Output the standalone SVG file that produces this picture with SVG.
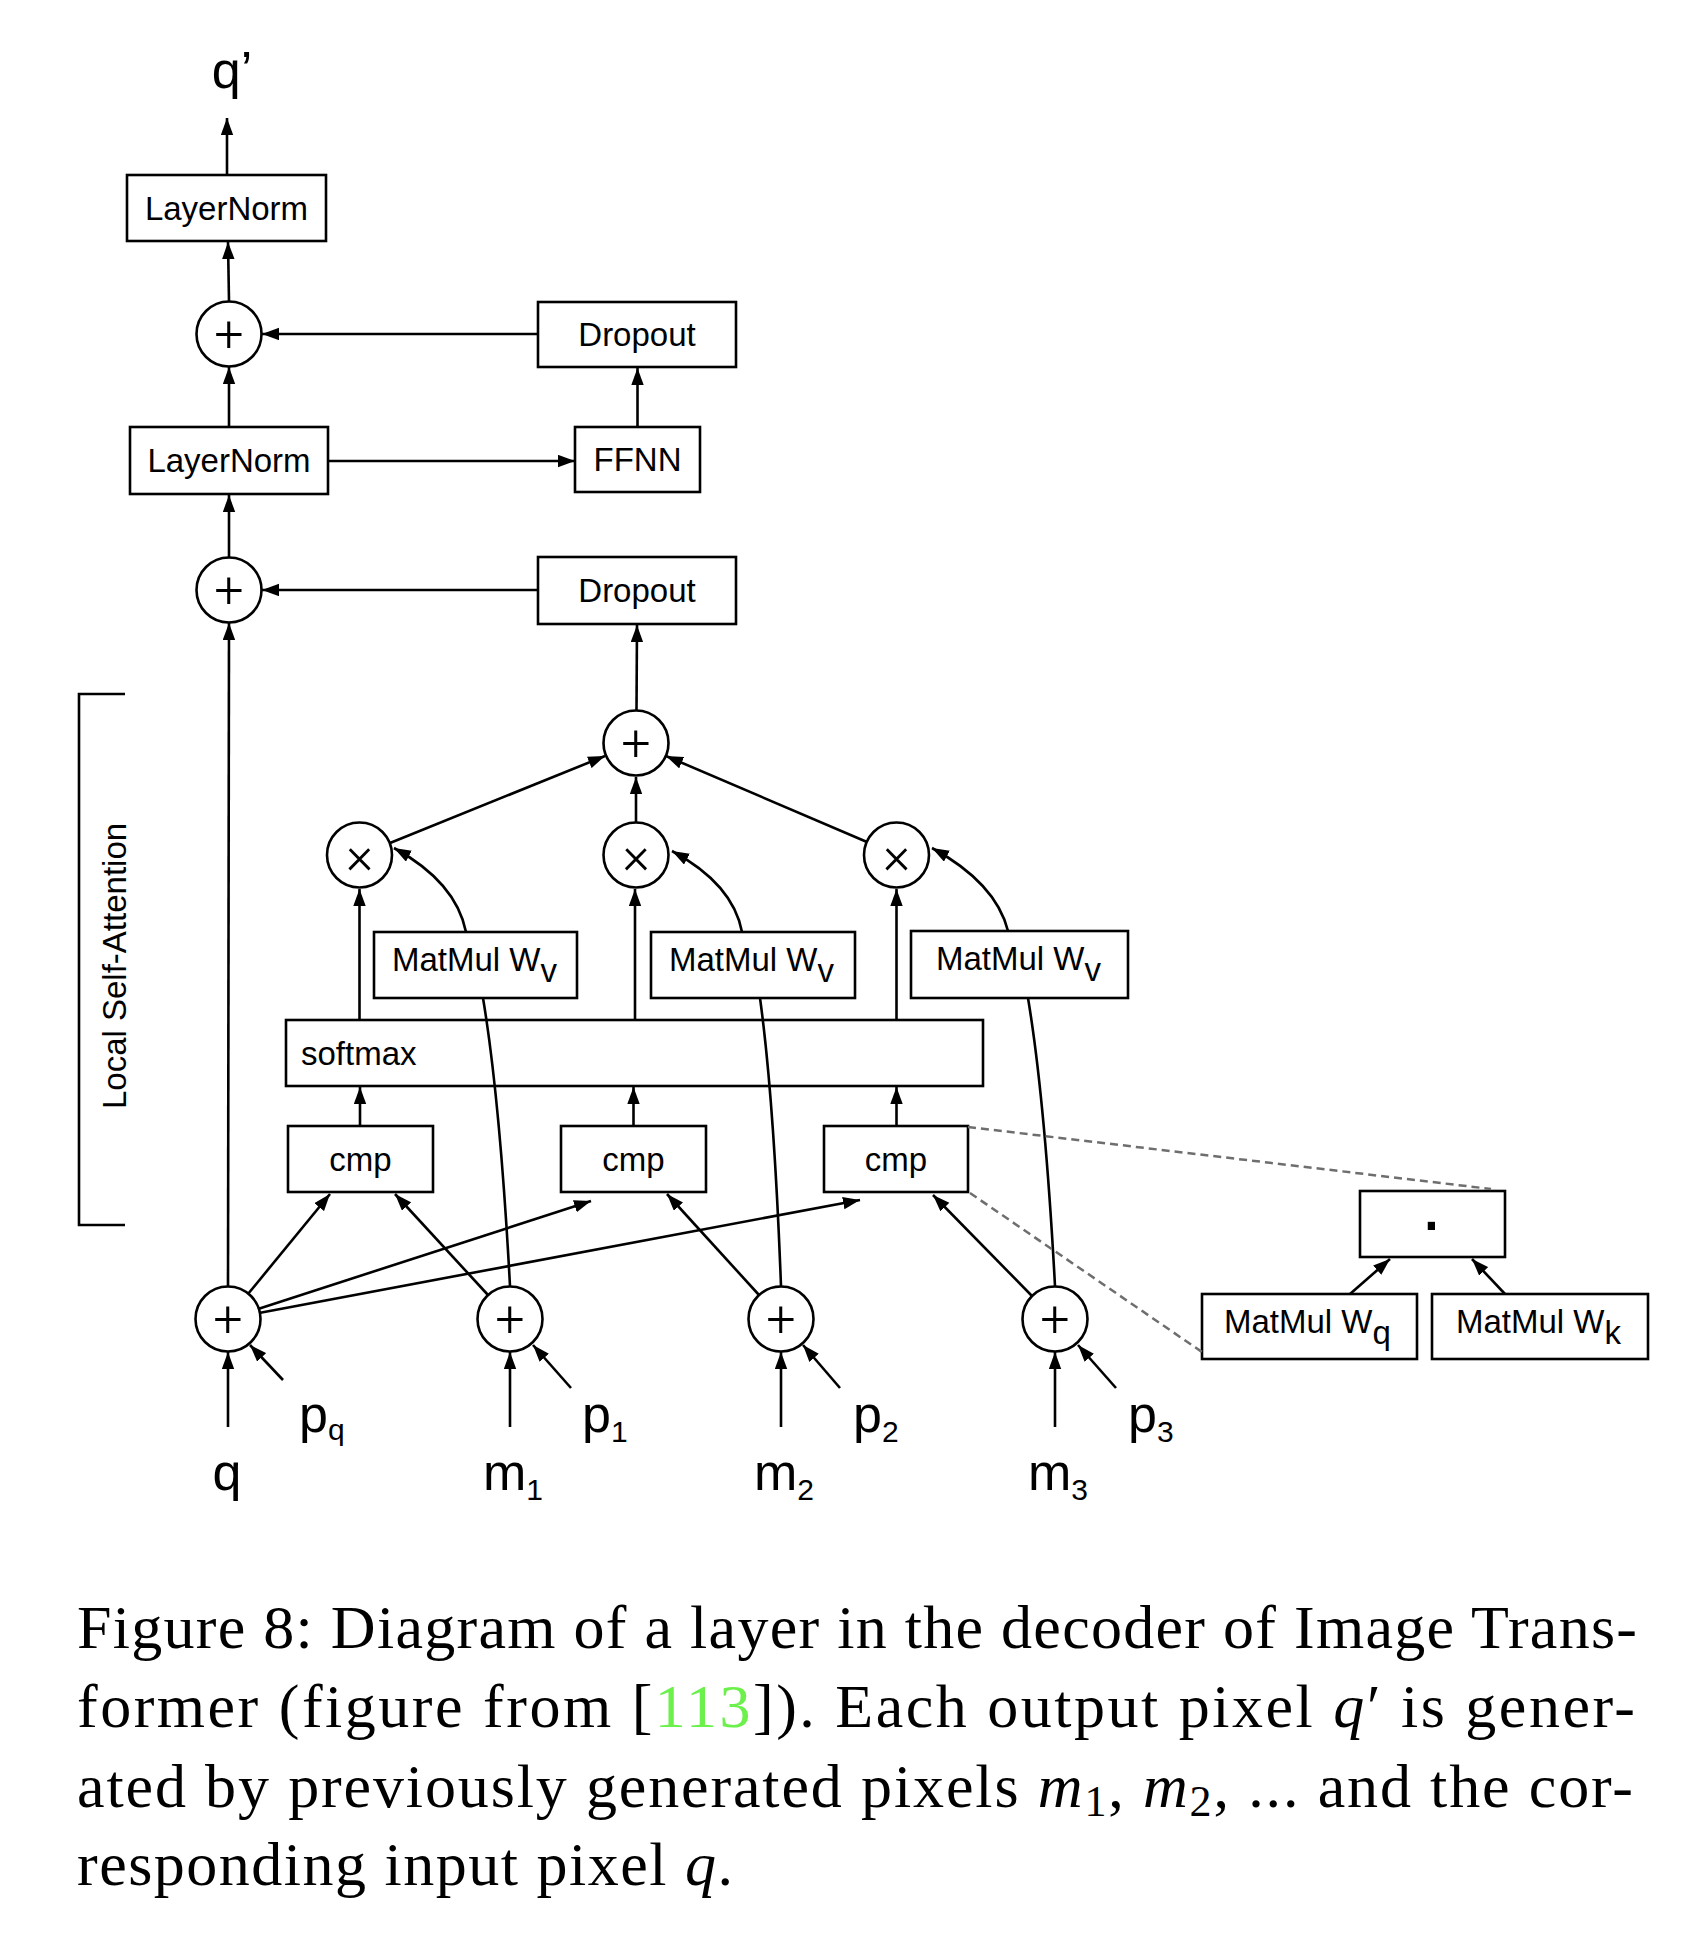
<svg xmlns="http://www.w3.org/2000/svg" width="1708" height="1954" viewBox="0 0 1708 1954">
<style>
.box{fill:#fff;stroke:#000;stroke-width:2.6}
.circ{fill:#fff;stroke:#000;stroke-width:2.6}
.lbl{font-family:"Liberation Sans",Arial,Helvetica,sans-serif;font-size:33px;fill:#000}
.big{font-family:"Liberation Sans",Arial,Helvetica,sans-serif;font-size:52px;fill:#000}
.sub{font-size:30px}
.mid{text-anchor:middle}
.op{font-family:Roboto,"Liberation Sans",Arial,sans-serif;font-weight:300;font-size:52px;text-anchor:middle;dominant-baseline:central;fill:#000}
.ln{stroke:#000;stroke-width:2.6;fill:none}
.arr{marker-end:url(#ah)}
.dash{stroke:#6e6e6e;stroke-width:2.5;stroke-dasharray:8 5;fill:none}
.cap{font-family:"Liberation Serif","Times New Roman",serif;font-size:62px;fill:#000}
.mi{font-style:italic}
.cs{font-size:44px}
</style>
<defs>
<marker id="ah" markerUnits="userSpaceOnUse" markerWidth="18" markerHeight="13" refX="17" refY="6.2" orient="auto">
<path d="M0,0 L17,6.2 L0,12.4 Z" fill="#000"/>
</marker>
</defs>
<rect width="1708" height="1954" fill="#fff"/>

<g id="bracket">
<path class="ln" d="M125,694 H79 V1225 H125"/>
<text class="lbl mid" transform="translate(126,966) rotate(-90)">Local Self-Attention</text>
</g>

<g id="q-out"><text class="big mid" x="232" y="88">q’</text></g>

<g id="layernorm-top"><rect class="box" x="127" y="175" width="199" height="66"/><text class="lbl mid" x="226.5" y="220">LayerNorm</text></g>
<g id="add-2"><circle class="circ" cx="229" cy="334" r="32.5"/><text class="op" x="229" y="334">+</text></g>
<g id="dropout-top"><rect class="box" x="538" y="302" width="198" height="65"/><text class="lbl mid" x="637" y="346">Dropout</text></g>
<g id="ffnn"><rect class="box" x="575" y="427" width="125" height="65"/><text class="lbl mid" x="637.5" y="471">FFNN</text></g>
<g id="layernorm-mid"><rect class="box" x="130" y="427" width="198" height="67"/><text class="lbl mid" x="229" y="472">LayerNorm</text></g>
<g id="add-1"><circle class="circ" cx="229" cy="590" r="32.5"/><text class="op" x="229" y="590">+</text></g>
<g id="dropout-attn"><rect class="box" x="538" y="557" width="198" height="67"/><text class="lbl mid" x="637" y="602">Dropout</text></g>

<g id="sum"><circle class="circ" cx="636" cy="743" r="32.5"/><text class="op" x="636" y="743">+</text></g>
<g id="mul-1"><circle class="circ" cx="359.5" cy="855" r="32.5"/><text class="op" x="359.5" y="855">×</text></g>
<g id="mul-2"><circle class="circ" cx="636" cy="855" r="32.5"/><text class="op" x="636" y="855">×</text></g>
<g id="mul-3"><circle class="circ" cx="896.5" cy="855" r="32.5"/><text class="op" x="896.5" y="855">×</text></g>

<g id="wv-1"><rect class="box" x="374" y="932" width="203" height="66"/><text class="lbl" x="392" y="971">MatMul W<tspan dy="11">v</tspan></text></g>
<g id="wv-2"><rect class="box" x="651" y="932" width="204" height="66"/><text class="lbl" x="669" y="971">MatMul W<tspan dy="11">v</tspan></text></g>
<g id="wv-3"><rect class="box" x="911" y="931" width="217" height="67"/><text class="lbl" x="936" y="970">MatMul W<tspan dy="11">v</tspan></text></g>

<g id="softmax"><rect class="box" x="286" y="1020" width="697" height="66"/><text class="lbl" x="301" y="1065">softmax</text></g>

<g id="cmp-1"><rect class="box" x="288" y="1126" width="145" height="66"/><text class="lbl mid" x="360.5" y="1171">cmp</text></g>
<g id="cmp-2"><rect class="box" x="561" y="1126" width="145" height="66"/><text class="lbl mid" x="633.5" y="1171">cmp</text></g>
<g id="cmp-3"><rect class="box" x="824" y="1126" width="144" height="66"/><text class="lbl mid" x="896" y="1171">cmp</text></g>

<g id="dot"><rect class="box" x="1360" y="1191" width="145" height="66"/><text class="lbl mid" x="1431.5" y="1247" style="font-size:76px">·</text></g>
<g id="wq"><rect class="box" x="1202" y="1294" width="215" height="65"/><text class="lbl" x="1224" y="1333">MatMul W<tspan dy="11">q</tspan></text></g>
<g id="wk"><rect class="box" x="1432" y="1294" width="216" height="65"/><text class="lbl" x="1456" y="1333">MatMul W<tspan dy="11">k</tspan></text></g>

<g id="in-q"><circle class="circ" cx="228" cy="1319" r="32.5"/><text class="op" x="228" y="1319">+</text></g>
<g id="in-m1"><circle class="circ" cx="510" cy="1319" r="32.5"/><text class="op" x="510" y="1319">+</text></g>
<g id="in-m2"><circle class="circ" cx="781" cy="1319" r="32.5"/><text class="op" x="781" y="1319">+</text></g>
<g id="in-m3"><circle class="circ" cx="1055" cy="1319" r="32.5"/><text class="op" x="1055" y="1319">+</text></g>

<g id="connectors">
<line class="ln arr" x1="227" y1="175" x2="227" y2="118"/>
<line class="ln arr" x1="229" y1="301" x2="228" y2="242"/>
<line class="ln arr" x1="538" y1="334" x2="262" y2="334"/>
<line class="ln arr" x1="637.5" y1="427" x2="637.5" y2="368"/>
<line class="ln arr" x1="328" y1="461" x2="575" y2="461"/>
<line class="ln arr" x1="229" y1="427" x2="229" y2="367"/>
<line class="ln arr" x1="229" y1="557" x2="229" y2="495"/>
<line class="ln arr" x1="538" y1="590" x2="262" y2="590"/>
<line class="ln arr" x1="228" y1="1286" x2="229" y2="623"/>
<line class="ln arr" x1="636.5" y1="710" x2="637" y2="625"/>
<line class="ln arr" x1="390" y1="843" x2="605" y2="756"/>
<line class="ln arr" x1="636" y1="822" x2="636" y2="777"/>
<line class="ln arr" x1="867" y1="842" x2="666" y2="756"/>
<path class="ln arr" d="M466,932 Q456,882 394,848"/>
<path class="ln arr" d="M742,932 Q733,884 672,851"/>
<path class="ln arr" d="M1008,931 Q996,883 932,848"/>
<line class="ln arr" x1="359.5" y1="1020" x2="359.5" y2="889"/>
<line class="ln arr" x1="635" y1="1020" x2="635" y2="889"/>
<line class="ln arr" x1="896.5" y1="1020" x2="896.5" y2="889"/>
<line class="ln arr" x1="360" y1="1126" x2="360" y2="1087"/>
<line class="ln arr" x1="633.5" y1="1126" x2="633.5" y2="1087"/>
<line class="ln arr" x1="896.5" y1="1126" x2="896.5" y2="1087"/>
<line class="ln arr" x1="248" y1="1294" x2="330" y2="1194"/>
<line class="ln arr" x1="258" y1="1309" x2="591" y2="1201"/>
<line class="ln arr" x1="259" y1="1313" x2="860" y2="1200"/>
<line class="ln arr" x1="488" y1="1295" x2="395" y2="1194"/>
<line class="ln arr" x1="759" y1="1295" x2="667" y2="1194"/>
<line class="ln arr" x1="1032" y1="1296" x2="933" y2="1195"/>
<path class="ln" d="M483,998 Q500,1100 510,1286"/>
<path class="ln" d="M760,998 Q774,1100 781,1286"/>
<path class="ln" d="M1028,998 Q1045,1100 1055,1286"/>
<line class="ln arr" x1="228" y1="1427" x2="228" y2="1352"/>
<line class="ln arr" x1="510" y1="1427" x2="510" y2="1352"/>
<line class="ln arr" x1="781" y1="1427" x2="781" y2="1352"/>
<line class="ln arr" x1="1055" y1="1427" x2="1055" y2="1352"/>
<line class="ln arr" x1="283" y1="1380" x2="250" y2="1345"/>
<line class="ln arr" x1="571" y1="1388" x2="533" y2="1345"/>
<line class="ln arr" x1="840" y1="1388" x2="803" y2="1345"/>
<line class="ln arr" x1="1116" y1="1388" x2="1078" y2="1345"/>
<line class="ln arr" x1="1350" y1="1294" x2="1390" y2="1259"/>
<line class="ln arr" x1="1505" y1="1294" x2="1472" y2="1259"/>
<line class="dash" x1="968" y1="1127" x2="1491" y2="1189"/>
<line class="dash" x1="970" y1="1193" x2="1202" y2="1352"/>
</g>

<g id="labels">
<text class="big mid" x="227" y="1490">q</text>
<text class="big" x="483" y="1490">m<tspan class="sub" dy="10">1</tspan></text>
<text class="big" x="754" y="1490">m<tspan class="sub" dy="10">2</tspan></text>
<text class="big" x="1028" y="1490">m<tspan class="sub" dy="10">3</tspan></text>
<text class="big" x="299" y="1432">p<tspan class="sub" dy="8">q</tspan></text>
<text class="big" x="582" y="1432">p<tspan class="sub" dy="10">1</tspan></text>
<text class="big" x="853" y="1432">p<tspan class="sub" dy="10">2</tspan></text>
<text class="big" x="1128" y="1432">p<tspan class="sub" dy="10">3</tspan></text>
</g>

<g id="caption">
<text class="cap" x="77" y="1648" textLength="1560" lengthAdjust="spacing">Figure 8: Diagram of a layer in the decoder of Image Trans-</text>
<text class="cap" x="77" y="1727" textLength="1558" lengthAdjust="spacing">former (figure from [<tspan fill="#6cf04c">113</tspan>]). Each output pixel <tspan class="mi">q</tspan>′ is gener-</text>
<text class="cap" x="77" y="1807" textLength="1556" lengthAdjust="spacing">ated by previously generated pixels <tspan class="mi">m</tspan><tspan class="cs" dy="9">1</tspan><tspan dy="-9">, </tspan><tspan class="mi">m</tspan><tspan class="cs" dy="9">2</tspan><tspan dy="-9">, ... and the cor-</tspan></text>
<text class="cap" x="77" y="1885" textLength="656" lengthAdjust="spacing">responding input pixel <tspan class="mi">q</tspan>.</text>
</g>
</svg>
